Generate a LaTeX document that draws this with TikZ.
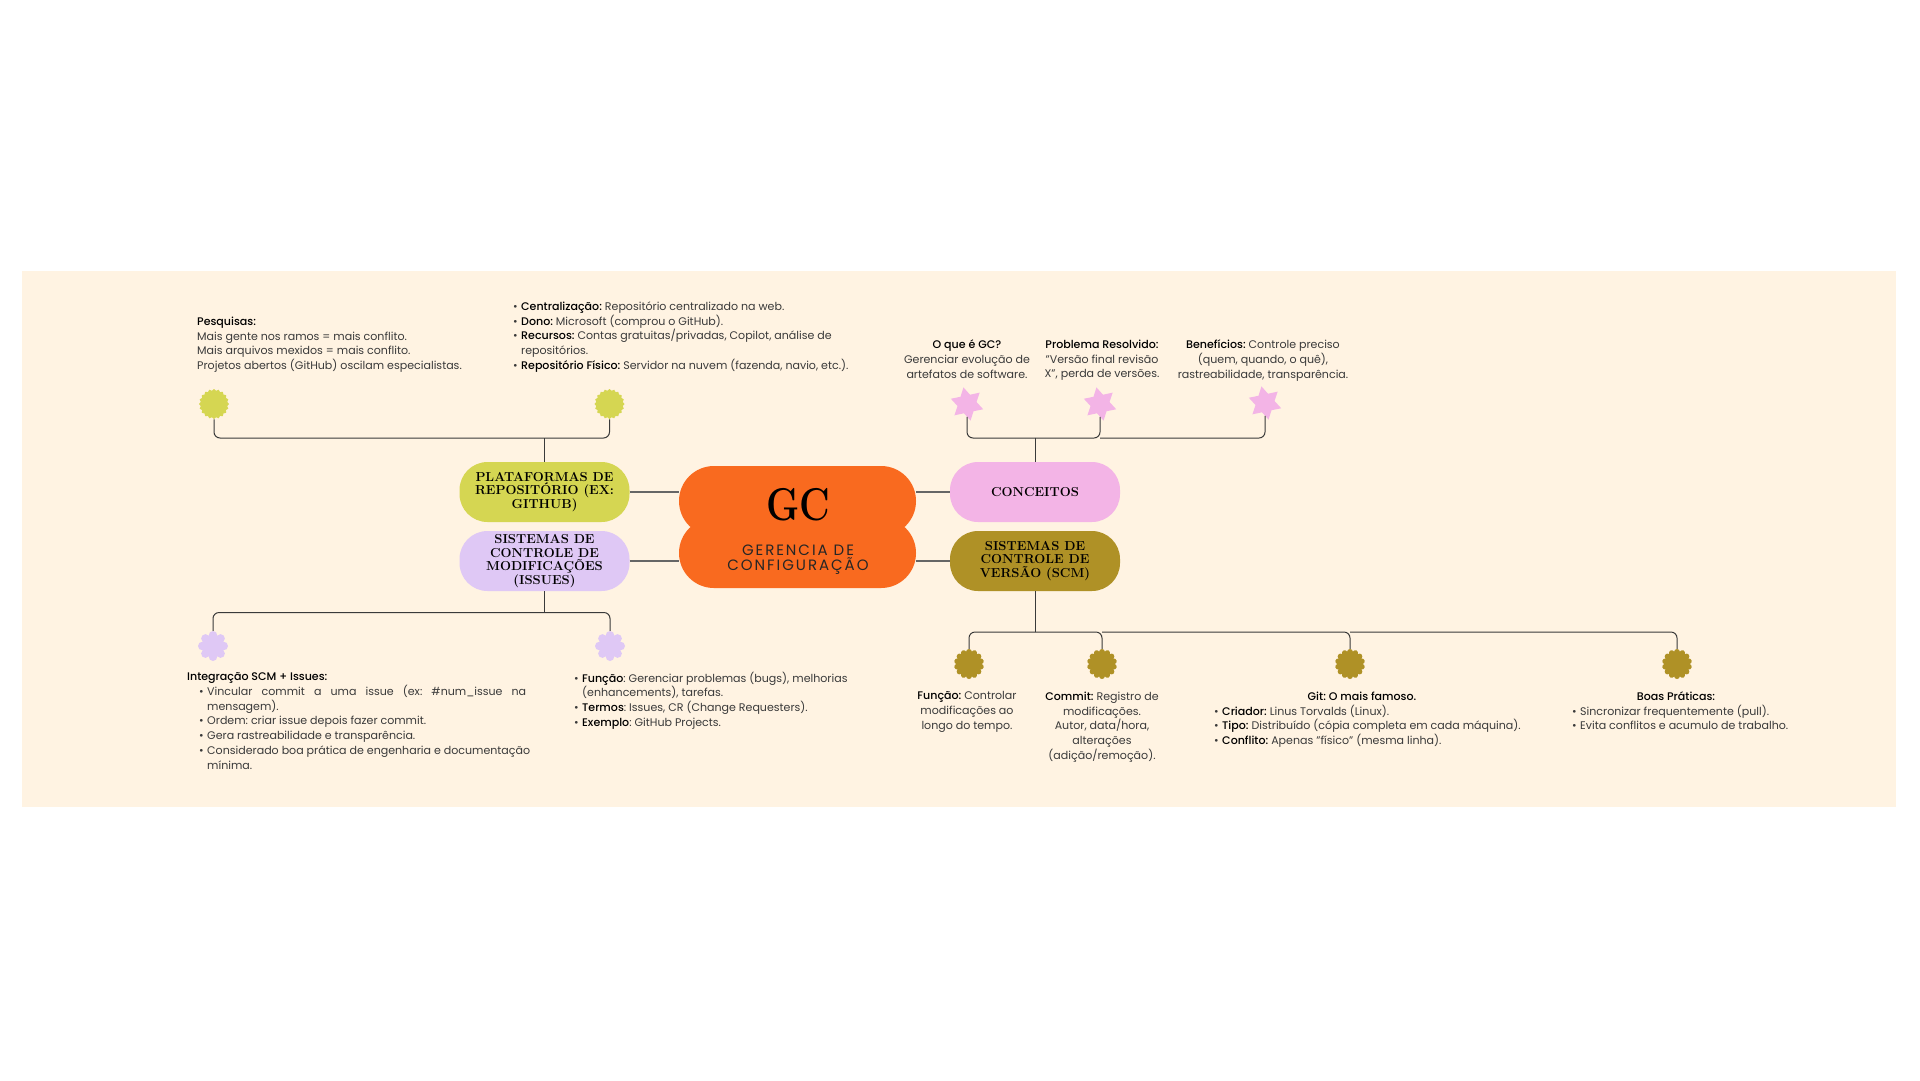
\documentclass[tikz,border=0pt]{standalone}
\usepackage{fontspec}
\setsansfont[BoldFont={Poppins Medium}]{Poppins}
\newfontfamily\spacedfont[LetterSpace=13]{Poppins}
\usetikzlibrary{shapes.geometric,shapes.symbols}
\definecolor{cream}{HTML}{FFF3E2}
\definecolor{gcorange}{HTML}{F96A1F}
\definecolor{plyellow}{HTML}{D5D652}
\definecolor{islilac}{HTML}{DFC8F5}
\definecolor{copink}{HTML}{F3B4E6}
\definecolor{scgold}{HTML}{AF9126}
\definecolor{inkgray}{HTML}{3A3A3A}
\newcommand{\itm}{\makebox[8pt][l]{\textbullet}}
\newcommand{\hng}{\hspace*{8pt}}

\begin{document}
\begin{tikzpicture}[x=1pt,y=-1pt,
        pill/.style={minimum width=170pt, minimum height=60pt, rounded corners=28pt, inner sep=0pt, align=center,
                     font=\rmfamily\bfseries\fontsize{13}{13.7}\selectfont},
        gc pill/.style={fill=gcorange, minimum width=237pt, minimum height=70pt, rounded corners=34.9pt},
        note/.style={inner sep=0pt, anchor=north west, align=left, yshift=4.4pt, text=inkgray,
                     font=\sffamily\frenchspacing\fontsize{11.05}{14.7}\selectfont, execute at begin node=\strut},
        note mid/.style={note, anchor=north, align=center},
        link/.style={draw=black!60, line width=1.6pt},
        wire/.style={draw=inkgray, line width=1pt},
        bend wire/.style={wire, rounded corners=6pt},
        dot yellow/.style={star, star points=20, star point ratio=1.12, minimum size=30pt, inner sep=0pt, fill=plyellow},
        dot lilac/.style={cloud, cloud puffs=8, cloud puff arc=190, aspect=1, minimum size=30pt, inner sep=0pt, fill=islilac},
        dot pink/.style={star, star points=6, star point ratio=1.75, shape border rotate=12, minimum size=34pt, inner sep=0pt, fill=copink},
        dot gold/.style={cloud, cloud puffs=14, cloud puff arc=170, aspect=1, minimum size=30pt, inner sep=0pt, fill=scgold}]
        \useasboundingbox (0,0) rectangle (1920,1080);
        \fill[cream] (22,271) rectangle (1896,807);

        % centre
        \node[gc pill] (gctop) at (797.5,501) {};
        \node[gc pill] (gcbot) at (797.5,553) {};
        \node[inner sep=0pt, font=\rmfamily\bfseries\fontsize{46}{46}\selectfont] (gcname) at (798,505) {\scalebox{.82}[1]{GC}};
        \node[inner sep=0pt, align=center, text=black!85, font=\spacedfont\fontsize{15}{15}\selectfont] (gcfull) at (798,559.5) {GERENCIA DE\\CONFIGURAÇÃO};

        % branches
        \node[pill, fill=plyellow] (plataformas) at (544.5,492) {PLATAFORMAS DE\\REPOSITÓRIO (EX:\\GITHUB)};
        \node[pill, fill=islilac ] (issues)      at (544.5,561) {SISTEMAS DE\\CONTROLE DE\\MODIFICAÇÕES\\(ISSUES)};
        \node[pill, fill=copink  ] (conceitos)   at (1035,492)  {CONCEITOS};
        \node[pill, fill=scgold  ] (scm)         at (1035,561)  {SISTEMAS DE\\CONTROLE DE\\VERSÃO (SCM)};

        \draw[link] (plataformas.east) -- (plataformas.east -| gctop.west);
        \draw[link] (issues.east)      -- (issues.east      -| gcbot.west);
        \draw[link] (conceitos.west)   -- (conceitos.west   -| gctop.east);
        \draw[link] (scm.west)         -- (scm.west         -| gcbot.east);

        % platforms
        \coordinate (platbus) at (544.5,438);
        \node[dot yellow] (platA) at (214,404)   {};
        \node[dot yellow] (platB) at (609.5,404) {};
        \draw[wire] (plataformas.north) -- (platbus);
        \draw[bend wire] (platbus) -| (platA.south);
        \draw[bend wire] (platbus) -| (platB.south);
        \node[note] (pesquisas) at (197,321) {\textcolor{black}{\textbf{Pesquisas:}}\\Mais gente nos ramos = mais conflito.\\Mais arquivos mexidos = mais conflito.\\Projetos abertos (GitHub) oscilam especialistas.};
        \node[note] (plataforma) at (513,306) {\itm\textcolor{black}{\textbf{Centralização:}} Repositório centralizado na web.\\
          \itm\textcolor{black}{\textbf{Dono:}} Microsoft (comprou o GitHub).\\
          \itm\textcolor{black}{\textbf{Recursos:}} Contas gratuitas/privadas, Copilot, análise de\\
          \hng repositórios.\\
          \itm\textcolor{black}{\textbf{Repositório Físico:}} Servidor na nuvem (fazenda, navio, etc.).};

        % issues
        \coordinate (issbus) at (544.5,612.5);
        \node[dot lilac] (issA) at (213,646) {};
        \node[dot lilac] (issB) at (610,646) {};
        \draw[wire] (issues.south) -- (issbus);
        \draw[bend wire] (issbus) -| (issA.north);
        \draw[bend wire] (issbus) -| (issB.north);
        \node[note] (integra) at (187,677) {\textcolor{black}{\textbf{Integração SCM + Issues:}}\\
          \hspace*{12pt}\itm\makebox[319pt][s]{Vincular commit a uma issue (ex: \#num\_issue na}\\
          \hspace*{12pt}\hng mensagem).\\
          \hspace*{12pt}\itm Ordem: criar issue depois fazer commit.\\
          \hspace*{12pt}\itm Gera rastreabilidade e transparência.\\
          \hspace*{12pt}\itm Considerado boa prática de engenharia e documentação\\
          \hspace*{12pt}\hng mínima.};
        \node[note] (funcaoiss) at (574,676) {\itm\textcolor{black}{\textbf{Função}}: Gerenciar problemas (bugs), melhorias\\
          \hng (enhancements), tarefas.\\
          \itm\textcolor{black}{\textbf{Termos}}: Issues, CR (Change Requesters).\\
          \itm\textcolor{black}{\textbf{Exemplo}}: GitHub Projects.};

        % concepts
        \coordinate (conbus) at (1035,438);
        \node[dot pink] (conA) at (967,404)  {};
        \node[dot pink] (conB) at (1100,404) {};
        \node[dot pink] (conC) at (1265,403) {};
        \draw[wire] (conceitos.north) -- (conbus);
        \draw[bend wire] (conbus) -| (conA.south);
        \draw[bend wire] (conbus) -| (conB.south);
        \draw[bend wire] (conB |- conbus) -| (conC.south);
        \node[note mid] (oque) at (967,344) {\textcolor{black}{\textbf{O que é GC?}}\\Gerenciar evolução de\\artefatos de software.};
        \node[note mid] (problema) at (1102,344) {\textcolor{black}{\textbf{Problema Resolvido:}}\\"Versão final revisão\\X", perda de versões.};
        \node[note mid] (beneficios) at (1263,344) {\textcolor{black}{\textbf{Benefícios:}} Controle preciso\\(quem, quando, o quê),\\rastreabilidade, transparência.};

        % version control
        \coordinate (scmbus) at (1035,632);
        \node[dot gold] (scmA) at (969,664)  {};
        \node[dot gold] (scmB) at (1102,664) {};
        \node[dot gold] (scmC) at (1350,664) {};
        \node[dot gold] (scmD) at (1677,664) {};
        \draw[wire] (scm.south) -- (scmbus);
        \draw[bend wire] (scmbus) -| (scmA.north);
        \draw[bend wire] (scmbus) -| (scmB.north);
        \draw[bend wire] (scmB |- scmbus) -| (scmC.north);
        \draw[bend wire] (scmC |- scmbus) -| (scmD.north);
        \node[note mid] (funcao) at (967,696) {\textcolor{black}{\textbf{Função:}} Controlar\\modificações ao\\longo do tempo.};
        \node[note mid] (commit) at (1102,696) {\textcolor{black}{\textbf{Commit:}} Registro de\\modificações.\\Autor, data/hora,\\alterações\\(adição/remoção).};
        \node[note mid] (gitname) at (1362,694) {\textcolor{black}{\textbf{Git: O mais famoso.}}};
        \node[note] (gitlist) at (1214,709) {\itm\textcolor{black}{\textbf{Criador:}} Linus Torvalds (Linux).\\
          \itm\textcolor{black}{\textbf{Tipo:}} Distribuído (cópia completa em cada máquina).\\
          \itm\textcolor{black}{\textbf{Conflito:}} Apenas "físico" (mesma linha).};
        \node[note mid] (boasname) at (1676,694) {\textcolor{black}{\textbf{Boas Práticas:}}};
        \node[note] (boaslist) at (1572,709) {\itm Sincronizar frequentemente (pull).\\\itm Evita conflitos e acumulo de trabalho.};
      \end{tikzpicture}
\end{document}
